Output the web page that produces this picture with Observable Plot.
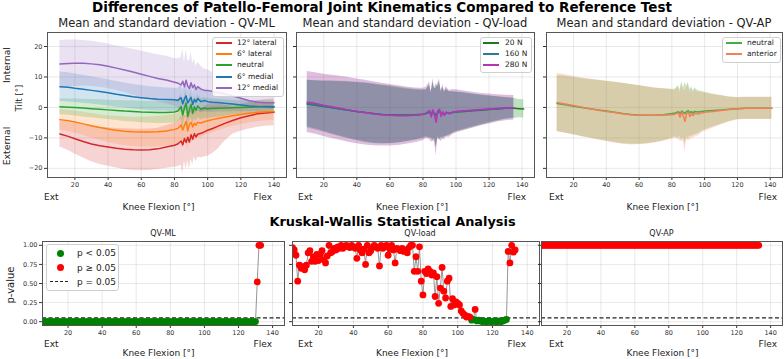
<!DOCTYPE html>
<html><head><meta charset="utf-8">
<script src="https://cdn.jsdelivr.net/npm/d3@7"></script>
<script src="https://cdn.jsdelivr.net/npm/@observablehq/plot@0.6"></script>
<style>
body{margin:0;background:#fff;font-family:"DejaVu Sans",sans-serif;}
#wrap{position:relative;width:784px;height:359px;overflow:hidden;background:#fff;}
.t{position:absolute;white-space:nowrap;line-height:1;color:#222;}
.box{position:absolute;}
.leg{position:absolute;border:1px solid #cfcfcf;border-radius:3px;background:rgba(255,255,255,0.85);box-sizing:border-box;}
</style></head><body><div id="wrap"></div>
<script>
// ---------- DATA ----------
const xTicks = [20, 40, 60, 80, 100, 120, 140];
const tiltTicks = [-20, -10, 0, 10, 20];
const pTicks = [0, 0.25, 0.5, 0.75, 1.0];

// QV-ML (knee flexion angle, mean tilt, sd)
const kneeML = [11,16,20,25,30,35,40,45,50,55,60,65,70,75,80, 82,84,85,86,87,88,89,90,91,92,93,94, 96,98,100,103,106,110,115,120,125,130,135,140];
const lat12Mean = [-8.7,-9.5,-10.3,-11.2,-12.0,-12.6,-13.0,-13.4,-13.7,-13.9,-14.0,-13.9,-13.6,-13.0,-12.4, -12.0,-11.0,-12.3,-10.2,-11.5,-9.8,-11.4,-9.0,-10.4,-8.6,-9.7,-8.8, -8.5,-8.0,-7.5,-6.9,-6.2,-5.3,-4.3,-3.4,-2.7,-2.1,-1.8,-1.6];
const lat12Sd   = [4.3,4.6,5.0,5.4,5.8,6.1,6.3,6.5,6.7,6.8,6.8,6.8,6.8,7.0,7.2, 7.4,8.0,9.5,7.5,8.8,7.6,9.0,8.0,8.4,7.6,8.2,7.6, 8.0,8.3,8.5,8.2,7.6,6.0,4.5,4.4,4.4,4.4,4.4,4.4];
const lat6Mean  = [-4.0,-4.4,-4.8,-5.4,-6.0,-6.6,-7.1,-7.5,-7.8,-8.0,-8.1,-8.1,-8.0,-7.7,-7.2, -6.9,-5.8,-7.4,-5.9,-4.6,-7.7,-5.6,-4.9,-6.4,-5.2,-5.8,-4.9, -5.1,-4.7,-4.4,-4.0,-3.6,-3.2,-2.7,-2.3,-1.9,-1.6,-1.4,-1.3];
const lat6Sd    = [3.4,3.5,3.6,3.8,4.0,4.2,4.4,4.6,4.7,4.8,4.9,5.0,5.0,5.0,5.0, 5.0,5.6,6.2,5.2,6.0,6.4,5.4,5.8,5.0,5.3,4.9,5.0, 4.8,4.6,4.5,4.3,4.1,3.8,3.5,3.3,3.2,3.1,3.0,3.0];
const neuMean   = [0.2,0.1,0.0,-0.2,-0.4,-0.6,-0.8,-1.0,-1.2,-1.3,-1.5,-1.6,-1.7,-1.7,-1.5, -1.2,0.3,-2.5,-0.2,1.5,-3.0,-0.8,1.0,-1.9,0.2,-0.9,0.5, -0.6,-0.2,-0.4,-0.3,-0.3,-0.2,-0.1,0.0,0.1,0.2,0.3,0.3];
const neuSd     = [2.6,2.7,2.8,2.9,3.0,3.1,3.2,3.3,3.4,3.5,3.5,3.6,3.6,3.6,3.6, 3.6,4.0,4.4,3.8,4.3,4.6,3.9,4.2,3.7,3.9,3.6,3.7, 3.5,3.4,3.3,3.1,2.9,2.7,2.4,2.2,2.1,2.0,2.0,2.0];
const med6Mean  = [6.8,6.6,6.3,6.0,5.6,5.2,4.8,4.3,3.9,3.5,3.2,2.9,2.7,2.6,2.5, 2.3,3.2,1.2,2.8,3.8,1.5,2.4,3.3,1.0,2.6,1.8,2.9, 1.9,2.3,1.9,1.7,1.6,1.4,1.1,0.8,0.5,0.3,0.2,0.1];
const med6Sd    = [4.8,4.8,4.7,4.6,4.5,4.4,4.3,4.2,4.1,4.0,4.0,3.9,3.9,3.8,3.8, 3.8,4.2,4.6,3.9,4.5,4.0,4.3,4.6,3.9,4.1,3.8,3.9, 3.7,3.6,3.5,3.3,3.1,2.9,2.5,2.2,1.9,1.6,1.4,1.3];
const med12Mean = [14.3,14.4,14.5,14.5,14.3,14.0,13.5,12.9,12.3,11.6,10.9,10.2,9.5,9.0,8.3, 8.0,7.4,8.6,6.8,8.9,7.0,6.2,8.1,6.5,7.4,5.9,6.8, 6.0,5.6,5.6,5.2,5.0,4.5,3.8,3.0,2.2,1.7,1.5,1.5];
const med12Sd   = [7.7,7.7,7.6,7.5,7.4,7.3,7.3,7.3,7.4,7.5,7.6,7.7,7.8,7.8,7.8, 8.0,9.0,10.5,8.0,10.0,8.5,9.0,10.0,8.0,8.5,7.5,8.0, 7.5,7.0,6.8,6.3,5.8,4.8,3.4,2.5,2.0,1.9,1.9,2.0];

// QV-load
const kneeLoad = [10,15,20,25,30,35,40,45,50,55,60,65,70,75,80, 82,84,85,86,87,88,89,90,91,92,93,94, 96,98,100,105,110,115,120,125,130,135,138,141];
const n20Mean  = [1.1,0.7,0.3,-0.1,-0.5,-0.9,-1.3,-1.7,-2.0,-2.3,-2.4,-2.5,-2.5,-2.4,-2.2, -2.0,-1.5,-2.3,-1.4,-1.9,-2.6,-1.6,-1.2,-2.1,-1.8,-2.4,-1.7, -2.0,-1.7,-1.5,-1.3,-1.1,-0.9,-0.7,-0.5,-0.3,-0.3,-0.4,-0.5];
const n20Sd    = [7.8,8.1,8.4,8.8,9.1,9.4,9.6,9.8,9.8,9.7,9.5,9.2,8.8,8.4,8.0, 7.8,8.8,7.5,9.6,8.2,10.5,8.4,9.5,7.6,8.4,7.4,7.8, 7.2,6.9,6.6,6.1,5.5,5.0,4.5,4.0,3.6,3.3,3.0,3.0];
const n160Mean = [1.3,0.9,0.4,0.0,-0.5,-0.9,-1.3,-1.7,-2.1,-2.3,-2.5,-2.6,-2.6,-2.5,-2.2, -1.9,-1.2,-2.8,-1.0,-2.2,-3.0,-1.3,-0.9,-2.5,-1.6,-2.2,-1.8, -1.9,-1.6,-1.4,-1.2,-1.0,-0.8,-0.6,-0.4,-0.3,-0.2,null,null];
const n160Sd   = [7.6,7.9,8.2,8.6,8.9,9.2,9.4,9.6,9.6,9.5,9.3,9.0,8.6,8.2,7.8, 7.6,8.6,7.4,9.4,8.0,10.2,8.2,9.3,7.5,8.2,7.3,7.6, 7.0,6.7,6.4,5.9,5.3,4.8,4.3,3.9,3.5,3.2,null,null];
const n280Mean = [1.8,1.3,0.7,0.2,-0.3,-0.8,-1.3,-1.7,-2.1,-2.4,-2.6,-2.7,-2.7,-2.6,-2.3, -1.8,-1.0,-3.2,-0.8,-2.5,-4.9,-1.1,-0.6,-3.0,-1.4,-2.6,-1.5, -2.1,-1.5,-1.3,-1.1,-0.9,-0.7,-0.5,-0.3,-0.2,-0.1,null,null];
const n280Sd   = [10.0,10.1,10.2,10.4,10.5,10.6,10.6,10.6,10.5,10.3,10.1,9.8,9.4,9.0,8.6, 8.4,9.4,8.2,10.2,8.8,11.0,9.0,10.0,8.2,9.0,8.0,8.3, 7.7,7.4,7.1,6.5,5.9,5.3,4.9,4.5,4.2,4.0,null,null];

// QV-AP
const kneeAP = [10,15,20,25,30,35,40,45,50,55,60,65,70,75,80, 82,84,85,86,87,88,89,90,91,92,93,94, 96,98,100,105,110,115,120,125,130,135,141];
const apNeuMean = [1.3,0.9,0.4,0.0,-0.4,-0.8,-1.2,-1.6,-2.0,-2.3,-2.5,-2.6,-2.6,-2.4,-2.0, -1.8,-1.4,-1.9,-1.2,-1.6,-2.0,-1.3,-1.1,-1.7,-1.4,-1.8,-1.3, -1.5,-1.3,-1.2,-1.0,-0.8,-0.6,-0.4,-0.3,-0.3,-0.3,-0.3];
const apNeuSd   = [9.2,9.3,9.4,9.5,9.6,9.7,9.8,9.9,9.9,9.8,9.6,9.3,8.9,8.5,8.0, 7.8,8.6,7.6,9.6,8.1,10.2,8.3,9.3,7.6,8.2,7.3,7.7, 7.1,6.6,6.2,5.4,4.7,4.0,3.6,3.6,3.6,3.6,3.6];
const apAntMean = [1.6,1.1,0.6,0.1,-0.4,-0.9,-1.3,-1.7,-2.1,-2.4,-2.5,-2.6,-2.6,-2.5,-2.4, -2.2,-1.8,-3.2,-1.5,-2.8,-4.6,-2.0,-1.6,-3.0,-2.0,-2.7,-1.9, -2.2,-1.8,-1.6,-1.3,-1.0,-0.7,-0.4,-0.3,-0.3,-0.3,-0.3];
const apAntSd   = [9.6,9.6,9.6,9.6,9.7,9.8,9.9,10.0,10.0,9.9,9.7,9.4,9.0,8.6,8.1, 7.9,8.7,7.8,9.7,8.3,10.3,8.5,9.4,7.7,8.3,7.4,7.8, 7.2,6.7,6.3,5.5,4.8,4.1,3.7,3.7,3.7,3.7,3.7];

// Kruskal-Wallis p-values
const pKnee = [5,6,7,8,9,10,11,12,13,14,15,16,17,18,19,20,21,22,23,24,25,26,27,28,29,30,31,32,33,34,35,36,37,38,39,40,41,42,43,44,45,46,47,48,49,50,51,52,53,54,55,56,57,58,59,60,61,62,63,64,65,66,67,68,69,70,71,72,73,74,75,76,77,78,79,80,81,82,83,84,85,86,87,88,89,90,91,92,93,94,95,96,97,98,99,100,101,102,103,104,105,106,107,108,109,110,111,112,113,114,115,116,117,118,119,120,121,122,123,124,125,126,127,128,129,130,131,132,133];
const pML = [0,0,0,0,0,0,0,0,0,0, 0,0,0,0,0,0,0,0,0,0, 0,0,0,0,0,0,0,0,0,0, 0,0,0,0,0,0,0,0,0,0, 0,0,0,0,0,0,0,0,0,0, 0,0,0,0,0,0,0,0,0,0, 0,0,0,0,0,0,0,0,0,0, 0,0,0,0,0,0,0,0,0,0, 0,0,0,0,0,0,0,0,0,0, 0,0,0,0,0,0,0,0,0,0, 0,0,0,0,0,0,0,0,0,0, 0,0,0,0,0,0,0,0,0,0, 0,0,0,0,0,0,0.52,1.0,1.0];
const pLoad = [0.97,0.94,0.87,0.53,0.74,0.70,0.72,0.68,0.74,0.90,
  0.93,0.79,0.85,0.79,0.88,0.80,0.88,0.93,0.81,0.77,
  0.86,1.00,0.90,0.92,0.96,0.94,0.98,0.96,1.00,0.96,
  0.99,1.00,0.98,0.97,1.00,0.98,0.96,0.83,1.00,0.94,
  0.90,0.95,0.75,1.00,0.90,0.93,0.97,1.00,0.98,0.96,
  0.73,1.00,0.96,0.98,1.00,0.87,0.95,1.00,0.94,0.77,
  0.96,0.95,0.93,0.96,0.92,0.94,0.90,0.97,1.00,1.00,
  0.66,0.85,0.66,0.98,0.53,0.35,0.66,0.63,0.69,0.66,
  0.61,0.64,0.33,0.59,0.24,0.44,0.71,0.40,0.31,0.53,
  0.57,0.20,0.30,0.22,0.26,0.24,0.22,0.14,0.11,0.09,
  0.06,0.07,0.06,0.02,0.03,0.16,0.01,0.02,0.01,0.0,
  0.01,0.0,0.0,0.01,0.0,0.0,0.01,0.0,0.0,0.01,
  0.0,0.01,0.02,0.03,0.92,0.77,1.00,0.91,0.94];
const pAP = [1,1,1,1,1,1,1,1,1,1, 1,1,1,1,1,1,1,1,1,1, 1,1,1,1,1,1,1,1,1,1, 1,1,1,1,1,1,1,1,1,1, 1,1,1,1,1,1,1,1,1,1, 1,1,1,1,1,1,1,1,1,1, 1,1,1,1,1,1,1,1,1,1, 1,1,1,1,1,1,1,1,1,1, 1,1,1,1,1,1,1,1,1,1, 1,1,1,1,1,1,1,1,1,1, 1,1,1,1,1,1,1,1,1,1, 1,1,1,1,1,1,1,1,1,1, 1,1,1,1,1,1,1,1,1];

// ---------- HELPERS ----------
const wrap = document.getElementById("wrap");
const FONT = "DejaVu Sans";
const minus = d => d < 0 ? "\u2212" + (-d) : String(d);

function addText(str, x, y, o = {}) {
  const d = document.createElement("div");
  d.className = "t";
  d.textContent = str;
  d.style.fontSize = (o.size || 9) + "px";
  d.style.fontWeight = o.weight || "normal";
  d.style.left = x + "px";
  d.style.top = y + "px";
  if (o.color) d.style.color = o.color;
  const tx = o.anchor === "start" ? "0" : o.anchor === "end" ? "-100%" : "-50%";
  d.style.transform = `translate(${tx},-50%)` + (o.rotate ? ` rotate(${o.rotate}deg)` : "");
  wrap.appendChild(d);
}
function place(svg, left, top) {
  const b = document.createElement("div");
  b.className = "box";
  b.style.left = left + "px";
  b.style.top = top + "px";
  b.appendChild(svg);
  wrap.appendChild(b);
}
function rowsOf(knee, mean, sd) {
  return knee.map((x, i) => ({x, m: mean[i], lo: mean[i] == null ? null : mean[i] - sd[i], hi: mean[i] == null ? null : mean[i] + sd[i]}))
    .filter(d => d.m != null);
}
function topPlot(series, width, mL, mR, showY) {
  const marks = [
    Plot.gridX(xTicks, {stroke: "#000", strokeOpacity: 0.09}),
    Plot.gridY(tiltTicks, {stroke: "#000", strokeOpacity: 0.09})
  ];
  for (const s of series) marks.push(Plot.areaY(s.rows, {x: "x", y1: "lo", y2: "hi", fill: s.band, fillOpacity: s.alpha, clip: true}));
  for (const s of series) marks.push(Plot.lineY(s.rows, {x: "x", y: "m", stroke: s.color, strokeWidth: 1.5, clip: true}));
  marks.push(Plot.axisX(xTicks, {tickSize: 3, tickPadding: 2, fontSize: 6.5, label: null, color: "#333"}));
  marks.push(Plot.axisY(tiltTicks, {tickSize: 3, tickPadding: 2, fontSize: 6.5, label: null, color: "#333", tickFormat: showY ? minus : () => ""}));
  marks.push(Plot.frame({stroke: "#555"}));
  return Plot.plot({
    width, height: 185, marginLeft: mL, marginRight: mR, marginTop: 4, marginBottom: 36,
    x: {domain: [3.5, 147.5]}, y: {domain: [-23, 24.6]},
    style: {fontFamily: FONT, background: "transparent", overflow: "visible"},
    marks
  });
}
function pPlot(p, width, mL, mR, showY) {
  const rows = pKnee.map((x, i) => ({x, p: p[i]}));
  const marks = [
    Plot.gridX(xTicks, {stroke: "#000", strokeOpacity: 0.09}),
    Plot.gridY(pTicks, {stroke: "#000", strokeOpacity: 0.09}),
    Plot.ruleY([0.05], {stroke: "#222", strokeWidth: 1.1, strokeDasharray: "4,2.5"}),
    Plot.lineY(rows, {x: "x", y: "p", stroke: "#8a8a8a", strokeWidth: 0.9, clip: true}),
    Plot.dot(rows.filter(d => d.p < 0.05), {x: "x", y: "p", r: 3.4, fill: "green", clip: true}),
    Plot.dot(rows.filter(d => d.p >= 0.05), {x: "x", y: "p", r: 3.4, fill: "red", clip: true}),
    Plot.axisX(xTicks, {tickSize: 3, tickPadding: 2, fontSize: 6.5, label: null, color: "#333"}),
    Plot.axisY(pTicks, {tickSize: 3, tickPadding: 2, fontSize: 6.5, label: null, color: "#333", tickFormat: showY ? d3.format(".2f") : () => ""}),
    Plot.frame({stroke: "#555"})
  ];
  return Plot.plot({
    width, height: 122, marginLeft: mL, marginRight: mR, marginTop: 4, marginBottom: 34,
    x: {domain: [5, 147]}, y: {domain: [-0.05, 1.05]},
    style: {fontFamily: FONT, background: "transparent", overflow: "visible"},
    marks
  });
}
function lineLegend(x, y, w, h, items, lineX0, lineX1, textX, rowY, size) {
  const box = document.createElement("div");
  box.className = "leg";
  box.style.left = x + "px"; box.style.top = y + "px"; box.style.width = w + "px"; box.style.height = h + "px";
  wrap.appendChild(box);
  items.forEach((it, i) => {
    const l = document.createElement("div");
    l.style.position = "absolute";
    l.style.left = lineX0 + "px"; l.style.width = (lineX1 - lineX0) + "px";
    l.style.top = (rowY[i] - 1) + "px"; l.style.height = "2px"; l.style.background = it.color;
    wrap.appendChild(l);
    addText(it.label, textX, rowY[i], {anchor: "start", size});
  });
}

// ---------- TOP ROW ----------
const mlSeries = [
  {rows: rowsOf(kneeML, lat12Mean, lat12Sd), color: "#d62728", band: "#d62728", alpha: 0.2},
  {rows: rowsOf(kneeML, lat6Mean, lat6Sd), color: "#ff7f0e", band: "#ff7f0e", alpha: 0.2},
  {rows: rowsOf(kneeML, neuMean, neuSd), color: "#2ca02c", band: "#2ca02c", alpha: 0.2},
  {rows: rowsOf(kneeML, med6Mean, med6Sd), color: "#1f77b4", band: "#1f77b4", alpha: 0.2},
  {rows: rowsOf(kneeML, med12Mean, med12Sd), color: "#9467bd", band: "#9467bd", alpha: 0.2}
];
const loadSeries = [
  {rows: rowsOf(kneeLoad, n20Mean, n20Sd), color: "#1f7a1f", band: "#228b22", alpha: 0.28},
  {rows: rowsOf(kneeLoad, n160Mean, n160Sd), color: "#2a7a9c", band: "#287aa0", alpha: 0.28},
  {rows: rowsOf(kneeLoad, n280Mean, n280Sd), color: "#b535b5", band: "#800080", alpha: 0.26}
];
const apSeries = [
  {rows: rowsOf(kneeAP, apNeuMean, apNeuSd), color: "#44ad44", band: "#2ca02c", alpha: 0.25},
  {rows: rowsOf(kneeAP, apAntMean, apAntSd), color: "#f47e55", band: "#ff7f50", alpha: 0.25}
];
place(topPlot(mlSeries, 290, 47, 4, true), 0, 28);
place(topPlot(loadSeries, 246, 4, 4, false), 292, 28);
place(topPlot(apSeries, 242, 4, 2, false), 542, 28);

// ---------- BOTTOM ROW ----------
place(pPlot(pML, 288, 42, 4, true), 0, 237);
place(pPlot(pLoad, 253, 4, 2, false), 288, 237);
place(pPlot(pAP, 247, 4, 2, false), 537, 237);

// ---------- TEXT ----------
addText("Differences of Patello-Femoral Joint Kinematics Compared to Reference Test", 382, 7.5, {size: 13.5, weight: "bold", color: "#000"});
addText("Mean and standard deviation - QV-ML", 166.5, 24, {size: 11.5});
addText("Mean and standard deviation - QV-load", 415, 24, {size: 11.5});
addText("Mean and standard deviation - QV-AP", 664, 24, {size: 11.5});
addText("Internal", 6.5, 65, {size: 9.3, rotate: -90});
addText("Tilt [°]", 19, 98, {size: 8.6, rotate: -90});
addText("External", 6.5, 146, {size: 9.3, rotate: -90});

const extX = [44, 298, 549], flexX = [272, 526, 777], labX = [158.5, 412, 662.5];
for (let i = 0; i < 3; i++) {
  addText("Ext", extX[i], 197, {size: 9, anchor: "start"});
  addText("Flex", flexX[i], 197, {size: 9, anchor: "end"});
  addText("Knee Flexion [°]", labX[i], 206.5, {size: 9});
  addText("Ext", extX[i], 344, {size: 9, anchor: "start"});
  addText("Flex", flexX[i], 344, {size: 9, anchor: "end"});
  addText("Knee Flexion [°]", labX[i], 353, {size: 9});
}
addText("Kruskal-Wallis Statistical Analysis", 392.5, 221.5, {size: 12.9, weight: "bold", color: "#000"});
addText("QV-ML", 163, 233.5, {size: 8});
addText("QV-load", 420, 233.5, {size: 8});
addText("QV-AP", 661.5, 233.5, {size: 8});
addText("p-value", 10.5, 285, {size: 10, rotate: -90});

// ---------- LEGENDS ----------
lineLegend(212, 37, 72, 60, [
  {label: "12° lateral", color: "#d62728"}, {label: "6° lateral", color: "#ff7f0e"},
  {label: "neutral", color: "#2ca02c"}, {label: "6° medial", color: "#1f77b4"}, {label: "12° medial", color: "#9467bd"}
], 216, 232, 237, [43, 54, 65, 76.5, 87.5], 7.5);
lineLegend(480, 37, 52, 36, [
  {label: "20 N", color: "#1f7a1f"}, {label: "160 N", color: "#2a7a9c"}, {label: "280 N", color: "#b535b5"}
], 483, 499, 505, [43, 54, 65], 7.5);
lineLegend(722, 37, 59, 26, [
  {label: "neutral", color: "#44ad44"}, {label: "anterior", color: "#f47e55"}
], 726, 742, 747, [43, 54], 7.5);

// bottom legend
{
  const box = document.createElement("div");
  box.className = "leg";
  box.style.left = "46px"; box.style.top = "244px"; box.style.width = "73px"; box.style.height = "47px";
  wrap.appendChild(box);
  const dot = (cx, cy, c) => {
    const d = document.createElement("div");
    d.style.cssText = `position:absolute;left:${cx - 3.5}px;top:${cy - 3.5}px;width:7px;height:7px;border-radius:50%;background:${c};`;
    wrap.appendChild(d);
  };
  dot(60, 253, "green");
  dot(60, 267.5, "red");
  const dl = document.createElement("div");
  dl.style.cssText = "position:absolute;left:50px;top:281px;width:18px;height:0;border-top:1.3px dashed #222;";
  wrap.appendChild(dl);
  addText("p < 0.05", 77, 253, {size: 9, anchor: "start"});
  addText("p \u2265 0.05", 77, 267.5, {size: 9, anchor: "start"});
  addText("p = 0.05", 77, 281.5, {size: 9, anchor: "start"});
}
</script></body></html>
